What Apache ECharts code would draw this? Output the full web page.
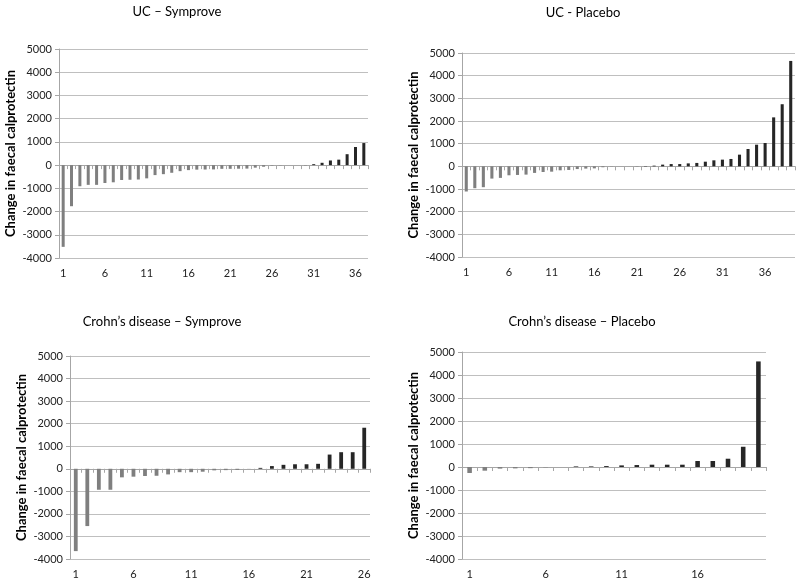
<!DOCTYPE html>
<html><head><meta charset="utf-8">
<script src="https://cdn.jsdelivr.net/npm/echarts@6/dist/echarts.min.js"></script>
<style>html,body{margin:0;padding:0;background:#fff}#c{width:798px;height:583px}</style>
</head><body><div id="c"></div>
<script>
// ---- data ----
const ucSymCats = ["1","2","3","4","5","6","7","8","9","10","11","12","13","14","15","16","17","18","19","20","21","22","23","24","25","26","27","28","29","30","31","32","33","34","35","36","37"];
const ucSymVals = [-3520,-1770,-910,-850,-850,-770,-740,-640,-630,-620,-570,-430,-390,-330,-260,-215,-195,-190,-185,-160,-160,-155,-150,-110,-70,-20,-10,0,0,5,40,100,200,235,470,780,950];

const ucPlaCats = ["1","2","3","4","5","6","7","8","9","10","11","12","13","14","15","16","17","18","19","20","21","22","23","24","25","26","27","28","29","30","31","32","33","34","35","36","37","38","39"];
const ucPlaVals = [-1110,-965,-920,-540,-510,-395,-380,-365,-290,-250,-235,-175,-160,-120,-100,-90,-40,-10,0,0,5,15,30,75,100,100,130,150,205,265,295,325,515,765,955,1030,2160,2740,4650];

const cdSymCats = ["1","2","3","4","5","6","7","8","9","10","11","12","13","14","15","16","17","18","19","20","21","22","23","24","25","26"];
const cdSymVals = [-3650,-2540,-930,-930,-380,-350,-320,-310,-250,-150,-150,-130,-70,-60,-50,-5,40,120,175,200,200,220,630,735,735,1820];

const cdPlaCats = ["1","2","3","4","5","6","7","8","9","10","11","12","13","14","15","16","17","18","19","20"];
const cdPlaVals = [-260,-160,-70,-60,-50,-15,0,25,25,40,70,85,100,100,100,260,260,360,880,4590];

const panelTitles = ["UC \u2013 Symprove", "UC - Placebo", "Crohn\u2019s disease \u2013 Symprove", "Crohn\u2019s disease \u2013 Placebo"];
const yTitle = "Change in faecal calprotectin";
const yMin = -4000, yMax = 5000, yStep = 1000;

// ---- layout ----
const FONT = "Lato";
const panels = [
  {cats: ucSymCats, vals: ucSymVals, grid: {left: 59, top: 49, width: 309, height: 209}, bw: '36%', title: [177, 12]},
  {cats: ucPlaCats, vals: ucPlaVals, grid: {left: 462, top: 53, width: 333, height: 204}, bw: '36%', title: [583, 13]},
  {cats: cdSymCats, vals: cdSymVals, grid: {left: 70, top: 356, width: 300, height: 203}, bw: '33%', title: [162, 322]},
  {cats: cdPlaCats, vals: cdPlaVals, grid: {left: 462, top: 352, width: 304, height: 207}, bw: '30%', title: [582, 322]}
];

const grid = [], xAxis = [], yAxis = [], series = [], graphic = [];
panels.forEach((p, i) => {
  grid.push(Object.assign({containLabel: false}, p.grid));
  xAxis.push({
    type: 'category', gridIndex: i, data: p.cats, position: 'bottom',
    axisLine: {show: true, onZero: true, lineStyle: {color: '#a6a6a6', width: 1}},
    axisTick: {show: true, length: 4, alignWithLabel: false, interval: 0, lineStyle: {color: '#a6a6a6'}},
    axisLabel: {show: false}, splitLine: {show: false}
  });
  xAxis.push({
    type: 'category', gridIndex: i, data: p.cats, position: 'bottom',
    axisLine: {show: false, onZero: false}, axisTick: {show: false},
    axisLabel: {show: true, interval: 4, fontSize: 11, fontFamily: FONT, color: '#222', margin: 10},
    splitLine: {show: false}
  });
  yAxis.push({
    type: 'value', gridIndex: i, min: yMin, max: yMax, interval: yStep,
    name: yTitle, nameLocation: 'middle', nameRotate: 90, nameGap: 42,
    nameTextStyle: {fontFamily: FONT, fontWeight: 'bold', fontSize: 13, color: '#000'},
    axisLine: {show: true, lineStyle: {color: '#a6a6a6'}},
    axisTick: {show: true, length: 4, lineStyle: {color: '#a6a6a6'}},
    axisLabel: {fontSize: 11, fontFamily: FONT, color: '#222', margin: 7, formatter: (v) => String(v)},
    splitLine: {show: true, lineStyle: {color: '#bfbfbf', width: 1}}
  });
  series.push({
    type: 'bar', xAxisIndex: i * 2, yAxisIndex: i, data: p.vals, barWidth: p.bw,
    itemStyle: {color: (d) => d.value < 0 ? '#7f7f7f' : '#262626'},
    animation: false
  });
  graphic.push({
    type: 'text', x: p.title[0], y: p.title[1],
    style: {text: panelTitles[i], fontFamily: FONT, fontSize: 13, fill: '#000', textAlign: 'center', textVerticalAlign: 'middle'}
  });
});

const chart = echarts.init(document.getElementById('c'), null, {renderer: 'canvas'});
chart.setOption({animation: false, backgroundColor: '#fff', grid, xAxis, yAxis, series, graphic});
</script>
</body></html>
